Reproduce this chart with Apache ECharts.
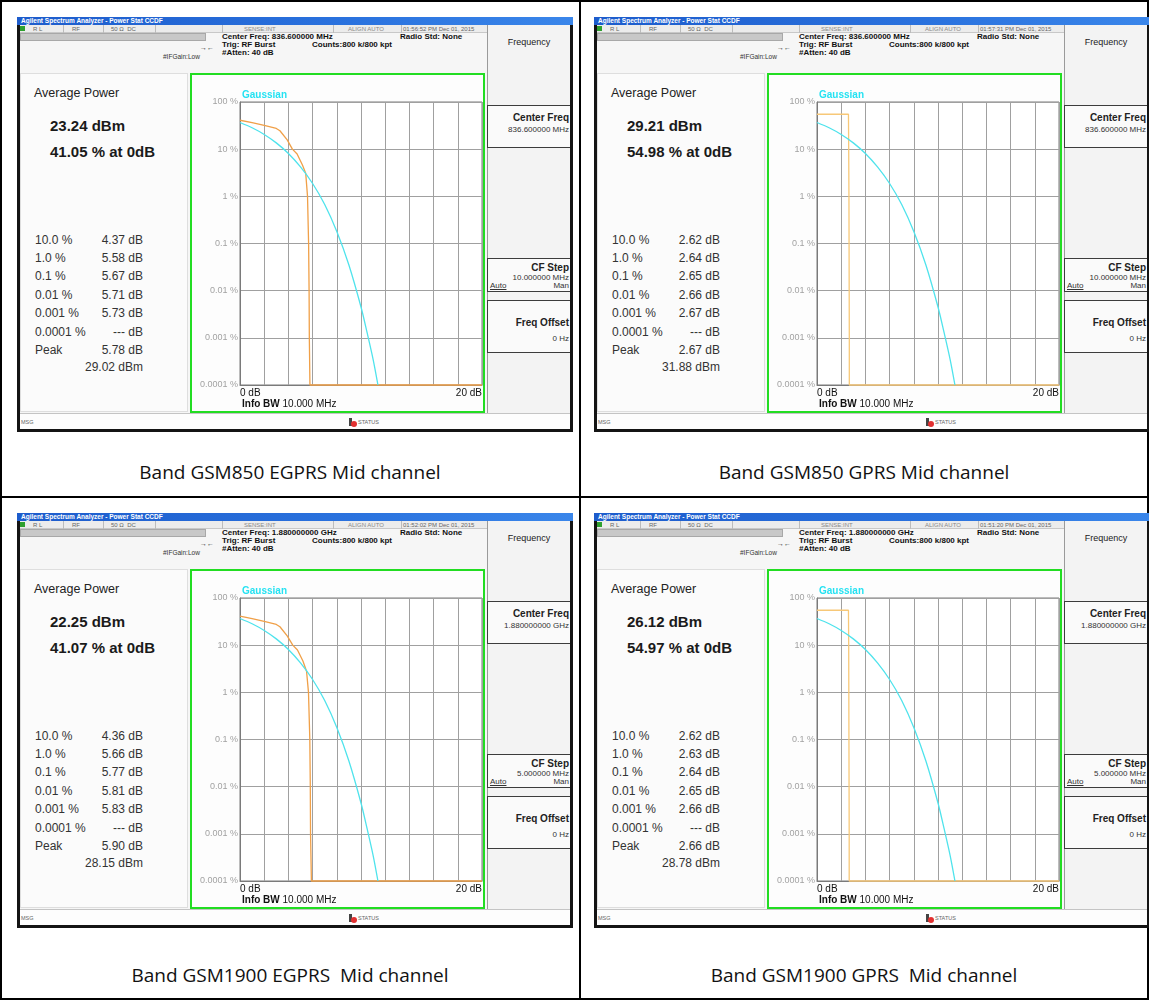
<!DOCTYPE html>
<html>
<head>
<meta charset="utf-8">
<script src="https://cdn.jsdelivr.net/npm/echarts@6.0.0/dist/echarts.min.js"></script>
<style>
body{margin:0;background:#fff;}
#page{position:relative;width:1149px;height:1000px;overflow:hidden;font-family:"Liberation Sans",Arial,sans-serif;color:#111;}
#page div{position:absolute;box-sizing:border-box;}
.t{height:20px;line-height:20px;white-space:pre;}
.cap{font-family:"Open Sans",sans-serif;font-size:19px;color:#111;text-align:center;width:500px;height:30px;line-height:30px;white-space:pre;}
</style>
</head>
<body>
<div id="page"></div>
<script>
// texts shown on the four analyzer screens
const captions = ['Band GSM850 EGPRS Mid channel', 'Band GSM850 GPRS Mid channel', 'Band GSM1900 EGPRS  Mid channel', 'Band GSM1900 GPRS  Mid channel'];
const headerFreq = ['Center Freq: 836.600000 MHz', 'Center Freq: 836.600000 MHz', 'Center Freq: 1.880000000 GHz', 'Center Freq: 1.880000000 GHz'];
const timeStamps = ['01:56:52 PM Dec 01, 2015', '01:57:31 PM Dec 01, 2015', '01:52:02 PM Dec 01, 2015', '01:51:20 PM Dec 01, 2015'];
const softCenterFreq = ['836.600000 MHz', '836.600000 MHz', '1.880000000 GHz', '1.880000000 GHz'];
const cfStep = ['10.000000 MHz', '10.000000 MHz', '5.000000 MHz', '5.000000 MHz'];
const avgPower = ['23.24 dBm', '29.21 dBm', '22.25 dBm', '26.12 dBm'];
const pctAtZero = ['41.05 % at 0dB', '54.98 % at 0dB', '41.07 % at 0dB', '54.97 % at 0dB'];
const probLabels = ['10.0 %', '1.0 %', '0.1 %', '0.01 %', '0.001 %', '0.0001 %', 'Peak'];
const statsDb = [
  ['4.37 dB', '5.58 dB', '5.67 dB', '5.71 dB', '5.73 dB', '--- dB', '5.78 dB'],
  ['2.62 dB', '2.64 dB', '2.65 dB', '2.66 dB', '2.67 dB', '--- dB', '2.67 dB'],
  ['4.36 dB', '5.66 dB', '5.77 dB', '5.81 dB', '5.83 dB', '--- dB', '5.90 dB'],
  ['2.62 dB', '2.63 dB', '2.64 dB', '2.65 dB', '2.66 dB', '--- dB', '2.66 dB']
];
const peakDbm = ['29.02 dBm', '31.88 dBm', '28.15 dBm', '28.78 dBm'];

// axis texts
const yTickLabels = ['0.0001 %', '0.001 %', '0.01 %', '0.1 %', '1 %', '10 %', '100 %'];
const xEndLabels = ['0 dB', '20 dB'];

// gaussian reference curve (dB, %)
const gaussDb  = [0, 1, 2, 3, 4, 5, 6, 7, 8, 9, 10, 10.5, 11, 11.4];
const gaussPct = [36.8, 28.4, 20.5, 13.6, 8.1, 4.2, 1.87, 0.67, 0.18, 0.035, 0.0045, 0.0013, 0.00035, 0.0001];

// measured CCDF curves (dB, %)
const measDb = [
  [0, 1, 2, 3, 3.3, 3.9, 4.33, 4.72, 5.16, 5.43, 5.58, 5.67, 5.71, 5.73, 5.78, 20],
  [0, 2.6, 2.62, 2.64, 2.65, 2.66, 2.67, 2.67, 20],
  [0, 1, 2, 3, 3.3, 3.9, 4.36, 4.75, 5.2, 5.5, 5.66, 5.77, 5.81, 5.83, 5.90, 20],
  [0, 2.6, 2.62, 2.63, 2.64, 2.65, 2.66, 2.66, 20]
];
const measPct = [
  [41.05, 36.5, 32, 27.5, 24.6, 15.7, 10, 7.9, 4.6, 3.1, 1, 0.1, 0.01, 0.001, 0.0001, 0.0001],
  [54.98, 54.98, 10, 1, 0.1, 0.01, 0.001, 0.0001, 0.0001],
  [41.07, 36.5, 32, 27.5, 24.6, 15.7, 10, 7.9, 4.6, 2.8, 1, 0.1, 0.01, 0.001, 0.0001, 0.0001],
  [54.97, 54.97, 10, 1, 0.1, 0.01, 0.001, 0.0001, 0.0001]
];
const measColor = ['#f0a048', '#f7c878', '#f0a048', '#f7c878'];

const offX = [0, 577, 0, 577];
const offY = [0, 0, 496, 496];

let html = '';
function box(x, y, w, h, css) {
  html += `<div style="left:${x}px;top:${y}px;width:${w}px;height:${h}px;${css || ''}"></div>`;
}
function txt(x, yc, s, css, align) {
  let pos = 'left:' + x + 'px;';
  if (align === 'right') pos = 'right:' + (1149 - x) + 'px;';
  if (align === 'center') pos = 'left:' + (x - 100) + 'px;width:200px;text-align:center;';
  html += `<div class="t" style="${pos}top:${yc - 10}px;${css || ''}">${s}</div>`;
}

// table lines
box(0, 0, 1149, 2, 'background:#000');
box(0, 0, 2, 1000, 'background:#000');
box(579, 0, 2, 1000, 'background:#000');
box(1147, 0, 2, 1000, 'background:#000');
box(0, 496, 1149, 2, 'background:#000');
box(0, 998, 1149, 2, 'background:#000');

for (let i = 0; i < 4; i++) {
  const dx = offX[i], dy = offY[i];
  // screen frame
  box(17 + dx, 17 + dy, 556, 415, 'background:#f6f6f6;border:3px solid #141414;border-top:none');
  box(17 + dx, 17 + dy, 556, 8, 'background:linear-gradient(90deg,#1d5ccc,#2a72de 60%,#3a86ea)');
  txt(21 + dx, 21 + dy, 'Agilent Spectrum Analyzer - Power Stat CCDF', 'font-size:6.5px;color:#fff;font-weight:bold');
  // status row
  box(20 + dx, 25 + dy, 467, 8, 'background:#ececec;border-bottom:1px solid #c8c8c8');
  box(20 + dx, 26 + dy, 5, 5, 'background:#2fa02f');
  [63, 103, 155, 222, 333, 401].forEach(function (sx) { box(sx + dx, 25 + dy, 1, 8, 'background:#bcbcbc'); });
  txt(33 + dx, 29 + dy, 'R L', 'font-size:6px;color:#666');
  txt(72 + dx, 29 + dy, 'RF', 'font-size:6px;color:#666');
  txt(111 + dx, 29 + dy, '50 Ω  DC', 'font-size:6px;color:#666');
  txt(244 + dx, 29 + dy, 'SENSE:INT', 'font-size:6px;color:#888');
  txt(348 + dx, 29 + dy, 'ALIGN AUTO', 'font-size:6px;color:#888');
  txt(403 + dx, 29 + dy, timeStamps[i], 'font-size:6px;color:#666');
  box(20 + dx, 33 + dy, 186, 8, 'background:#c8c8c8;border:1px solid #a8a8a8');
  txt(222 + dx, 37 + dy, headerFreq[i], 'font-size:8px;font-weight:bold');
  txt(400 + dx, 37 + dy, 'Radio Std: None', 'font-size:8px;font-weight:bold');
  txt(222 + dx, 45 + dy, 'Trig: RF Burst', 'font-size:8px;font-weight:bold');
  txt(312 + dx, 45 + dy, 'Counts:800 k/800 kpt', 'font-size:8px;font-weight:bold');
  txt(222 + dx, 53 + dy, '#Atten: 40 dB', 'font-size:8px;font-weight:bold');
  txt(200 + dx, 48 + dy, '→←', 'font-size:7px;color:#333');
  txt(163 + dx, 57 + dy, '#IFGain:Low', 'font-size:6.5px;color:#333');

  // left result panel
  box(20 + dx, 73 + dy, 168, 339, 'background:#fbfbfb;border:1px solid #dedede');
  txt(34 + dx, 93 + dy, 'Average Power', 'font-size:12.5px;color:#222');
  txt(50 + dx, 126 + dy, avgPower[i], 'font-size:15px;font-weight:bold;color:#1a1a1a');
  txt(50 + dx, 152 + dy, pctAtZero[i], 'font-size:15px;font-weight:bold;color:#1a1a1a');
  for (let r = 0; r < probLabels.length; r++) {
    const yc = 239.5 + r * 18.4 + dy;
    txt(35 + dx, yc, probLabels[r], 'font-size:12px;color:#333');
    txt(143 + dx, yc, statsDb[i][r], 'font-size:12px;color:#333', 'right');
  }
  txt(143 + dx, 367 + dy, peakDbm[i], 'font-size:12px;color:#333', 'right');

  // softkey panel
  box(487 + dx, 25 + dy, 83, 388, 'background:#f3f3f3;border-left:1px solid #9a9a9a');
  txt(529 + dx, 42 + dy, 'Frequency', 'font-size:9px;color:#222', 'center');
  box(487 + dx, 105 + dy, 83, 43, 'background:#fafafa;border:1px solid #3c3c3c;border-right:none');
  txt(569 + dx, 118 + dy, 'Center Freq', 'font-size:10px;font-weight:bold;color:#222', 'right');
  txt(569 + dx, 130 + dy, softCenterFreq[i], 'font-size:8px;color:#333', 'right');
  box(487 + dx, 258 + dy, 83, 34, 'background:#fafafa;border:1px solid #3c3c3c;border-right:none');
  txt(569 + dx, 268 + dy, 'CF Step', 'font-size:10px;font-weight:bold;color:#222', 'right');
  txt(569 + dx, 277.5 + dy, cfStep[i], 'font-size:8px;color:#333', 'right');
  txt(490 + dx, 285.5 + dy, 'Auto', 'font-size:8px;color:#333;text-decoration:underline');
  txt(569 + dx, 285.5 + dy, 'Man', 'font-size:8px;color:#333', 'right');
  box(487 + dx, 300 + dy, 83, 53, 'background:#fafafa;border:1px solid #3c3c3c;border-right:none');
  txt(569 + dx, 323 + dy, 'Freq Offset', 'font-size:10px;font-weight:bold;color:#222', 'right');
  txt(569 + dx, 339 + dy, '0 Hz', 'font-size:8px;color:#333', 'right');

  // status bar
  box(20 + dx, 413 + dy, 550, 16, 'background:#fdfdfd;border-top:1px solid #c4c4c4');
  txt(21 + dx, 422 + dy, 'MSG', 'font-size:5.5px;color:#666');
  box(349 + dx, 418 + dy, 3, 8, 'background:#444');
  box(351 + dx, 421 + dy, 6, 6, 'background:#e23030;border-radius:3px');
  txt(358 + dx, 422 + dy, 'STATUS', 'font-size:5.5px;color:#666');

  // green measurement window + chart
  box(190 + dx, 73 + dy, 295, 340, 'background:#fdfdfd;border:2px solid #22dd22');
  html += `<div id="c${i}" style="left:${190 + dx}px;top:${73 + dy}px;width:295px;height:340px;"></div>`;
  txt(242 + dx, 404 + dy, '<b>Info BW</b> 10.000 MHz', 'font-size:10px;color:#111');

  // caption
  html += `<div class="cap" style="left:${(i % 2 ? 864 : 290) - 250}px;top:${(i < 2 ? 472 : 975) - 15}px">${captions[i]}</div>`;
}
document.getElementById('page').innerHTML = html;

for (let i = 0; i < 4; i++) {
  const chart = echarts.init(document.getElementById('c' + i), null, {renderer: 'canvas'});
  chart.setOption({
    animation: false,
    textStyle: {fontFamily: 'Liberation Sans'},
    legend: {
      data: ['Gaussian'], icon: 'none', left: 47, top: 15, itemWidth: 0, padding: 0,
      textStyle: {color: '#25e2f2', fontWeight: 'bold', fontSize: 10}
    },
    grid: {left: 50, top: 29, width: 243, height: 283, show: true, backgroundColor: '#fff', borderColor: '#7a7a7a', borderWidth: 1},
    xAxis: {
      type: 'value', min: 0, max: 20, interval: 2,
      axisLine: {lineStyle: {color: '#7a7a7a'}},
      axisTick: {show: false},
      splitLine: {lineStyle: {color: '#a0a0a0', width: 1}},
      axisLabel: {
        margin: 3, fontSize: 10, color: '#111',
        showMinLabel: true, showMaxLabel: true, alignMinLabel: 'left', alignMaxLabel: 'right',
        formatter: function (v) { return v === 0 ? xEndLabels[0] : (v === 20 ? xEndLabels[1] : ''); }
      }
    },
    yAxis: {
      type: 'log', logBase: 10, min: 0.0001, max: 100, splitNumber: 6,
      axisLine: {lineStyle: {color: '#7a7a7a'}},
      axisTick: {show: false},
      splitLine: {lineStyle: {color: '#a0a0a0', width: 1}},
      axisLabel: {
        margin: 2, fontSize: 9, color: '#a2a2a2',
        formatter: function (v) { return yTickLabels[Math.round(Math.log10(v)) + 4] || ''; }
      }
    },
    series: [
      {
        name: 'Measured', type: 'line', showSymbol: false, clip: false,
        lineStyle: {color: measColor[i], width: 1.3}, itemStyle: {color: measColor[i]},
        data: measDb[i].map(function (d, k) { return [d, measPct[i][k]]; })
      },
      {
        name: 'Gaussian', type: 'line', showSymbol: false, smooth: 0.3,
        lineStyle: {color: '#4fe3ec', width: 1.3}, itemStyle: {color: '#4fe3ec'},
        data: gaussDb.map(function (d, k) { return [d, gaussPct[k]]; })
      }
    ]
  });
}
</script>
</body>
</html>
